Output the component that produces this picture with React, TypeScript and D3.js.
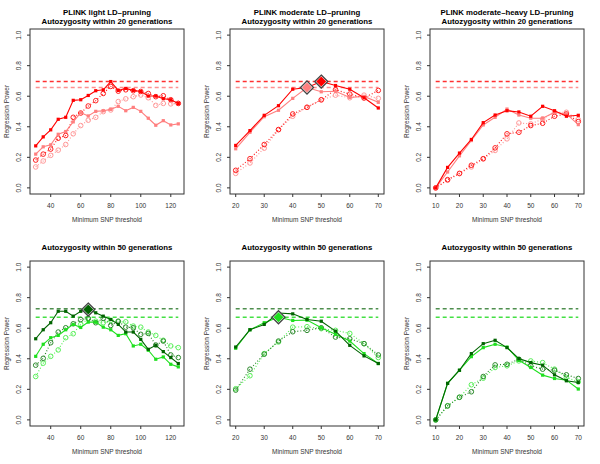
import React from 'react';
import * as d3 from 'd3';

// x values (minimum SNP threshold)
const xLight = [30, 35, 40, 45, 50, 55, 60, 65, 70, 75, 80, 85, 90, 95, 100, 105, 110, 115, 120, 125];
const xModerate = [20, 25, 30, 35, 40, 45, 50, 55, 60, 65, 70];
const xHeavy = [10, 15, 20, 25, 30, 35, 40, 45, 50, 55, 60, 65, 70];

const xTicksLight = [40, 60, 80, 100, 120];
const xTicksModerate = [20, 30, 40, 50, 60, 70];
const xTicksHeavy = [10, 20, 30, 40, 50, 60, 70];
const yTicks = [0, 0.2, 0.4, 0.6, 0.8, 1.0];

// 20 generations
const light20A = [0.275, 0.334, 0.38, 0.449, 0.462, 0.573, 0.577, 0.605, 0.636, 0.642, 0.696, 0.638, 0.651, 0.638, 0.631, 0.601, 0.601, 0.584, 0.577, 0.553];
const light20B = [0.221, 0.269, 0.282, 0.351, 0.369, 0.432, 0.492, 0.471, 0.501, 0.505, 0.514, 0.534, 0.505, 0.527, 0.501, 0.456, 0.41, 0.44, 0.412, 0.419];
const light20C = [0.182, 0.221, 0.254, 0.325, 0.343, 0.462, 0.49, 0.536, 0.571, 0.618, 0.664, 0.633, 0.642, 0.636, 0.631, 0.618, 0.597, 0.603, 0.577, 0.553];
const light20D = [0.137, 0.176, 0.213, 0.247, 0.284, 0.354, 0.408, 0.443, 0.462, 0.499, 0.51, 0.565, 0.583, 0.597, 0.608, 0.59, 0.54, 0.553, 0.55, 0.553];

const moderate20A = [0.278, 0.375, 0.475, 0.538, 0.646, 0.657, 0.696, 0.67, 0.646, 0.59, 0.523];
const moderate20B = [0.256, 0.364, 0.466, 0.508, 0.586, 0.657, 0.629, 0.633, 0.592, 0.599, 0.56];
const moderate20C = [0.115, 0.191, 0.284, 0.382, 0.484, 0.527, 0.577, 0.642, 0.614, 0.588, 0.638];
const moderate20D = [0.095, 0.163, 0.26, 0.38, 0.469, 0.529, 0.575, 0.607, 0.59, 0.607, 0.586];

const heavy20A = [0.0, 0.134, 0.228, 0.317, 0.427, 0.477, 0.505, 0.497, 0.469, 0.534, 0.505, 0.469, 0.475];
const heavy20B = [0.0, 0.104, 0.21, 0.31, 0.412, 0.462, 0.516, 0.477, 0.456, 0.456, 0.495, 0.484, 0.414];
const heavy20C = [0.0, 0.054, 0.095, 0.148, 0.191, 0.262, 0.354, 0.364, 0.408, 0.423, 0.469, 0.484, 0.434];
const heavy20D = [0.0, 0.05, 0.093, 0.137, 0.19, 0.245, 0.321, 0.425, 0.419, 0.451, 0.495, 0.495, 0.447];

// 50 generations
const light50A = [0.531, 0.59, 0.636, 0.711, 0.711, 0.679, 0.711, 0.722, 0.701, 0.679, 0.657, 0.625, 0.575, 0.575, 0.527, 0.462, 0.488, 0.447, 0.408, 0.369];
const light50B = [0.416, 0.495, 0.538, 0.553, 0.59, 0.625, 0.605, 0.64, 0.64, 0.607, 0.59, 0.553, 0.564, 0.484, 0.495, 0.456, 0.397, 0.412, 0.364, 0.347];
const light50C = [0.358, 0.403, 0.505, 0.575, 0.603, 0.629, 0.657, 0.664, 0.636, 0.664, 0.618, 0.646, 0.607, 0.603, 0.56, 0.566, 0.49, 0.516, 0.425, 0.408];
const light50D = [0.284, 0.371, 0.416, 0.458, 0.538, 0.564, 0.625, 0.662, 0.646, 0.636, 0.651, 0.642, 0.642, 0.614, 0.607, 0.575, 0.553, 0.521, 0.484, 0.473];

const moderate50A = [0.477, 0.59, 0.625, 0.7, 0.694, 0.657, 0.646, 0.581, 0.488, 0.419, 0.369];
const moderate50B = [0.469, 0.59, 0.636, 0.672, 0.651, 0.653, 0.603, 0.56, 0.516, 0.434, 0.369];
const moderate50C = [0.195, 0.332, 0.43, 0.516, 0.577, 0.586, 0.603, 0.542, 0.531, 0.499, 0.425];
const moderate50D = [0.204, 0.289, 0.434, 0.51, 0.607, 0.61, 0.597, 0.586, 0.566, 0.499, 0.408];

const heavy50A = [0.0, 0.239, 0.325, 0.434, 0.499, 0.521, 0.473, 0.401, 0.375, 0.358, 0.295, 0.256, 0.245];
const heavy50B = [0.0, 0.239, 0.325, 0.414, 0.473, 0.495, 0.477, 0.39, 0.343, 0.293, 0.271, 0.26, 0.202];
const heavy50C = [0.0, 0.091, 0.148, 0.184, 0.284, 0.36, 0.364, 0.397, 0.354, 0.332, 0.325, 0.295, 0.271];
const heavy50D = [0.0, 0.093, 0.148, 0.23, 0.273, 0.343, 0.354, 0.386, 0.386, 0.375, 0.332, 0.278, 0.249];

const thresholds20 = [0.696, 0.657];
const thresholds50 = [0.727, 0.672];

const reds = { a: '#ff0000', b: '#ff7f7f', c: '#ff2020', d: '#ff9a9a', h1: '#ff3030', h2: '#ff9090' };
const greens = { a: '#006400', b: '#1ee01e', c: '#2e8b2e', d: '#5cf05c', h1: '#4f8f4f', h2: '#44e044' };

const box = { left: 30, right: 184, top: 29, bottom: 194 };
const font = 'Liberation Sans, Arial, Helvetica, sans-serif';

function Panel({ px, py, title, xs, xTicks, series, palette, thresholds, marks }) {
  const pad = (d3.max(xs) - d3.min(xs)) * 0.04;
  const x = d3.scaleLinear().domain([d3.min(xs) - pad, d3.max(xs) + pad]).range([box.left, box.right]);
  const y = d3.scaleLinear().domain([-0.04, 1.04]).range([box.bottom, box.top]);
  const line = d3.line().x((d) => x(d[0])).y((d) => y(d[1]));
  const cols = [palette.a, palette.b, palette.c, palette.d];
  const diamond = (s) => `M0,${-s}L${s},0L0,${s}L${-s},0Z`;

  return (
    <g transform={`translate(${px},${py})`}>
      {title.map((t, i) => (
        <text key={i} x={(box.left + box.right) / 2} y={title.length === 1 ? 18 : 15 + i * 9}
          textAnchor="middle" fontSize={7.8} fontWeight="bold" fill="#000">{t}</text>
      ))}
      <rect x={box.left} y={box.top} width={box.right - box.left} height={box.bottom - box.top}
        fill="none" stroke="#333" strokeWidth={1} />
      {/* x axis */}
      {xTicks.map((t) => (
        <g key={t}>
          <line x1={x(t)} x2={x(t)} y1={box.bottom} y2={box.bottom + 3} stroke="#333" />
          <text x={x(t)} y={box.bottom + 14} textAnchor="middle" fontSize={6.5} fill="#333">{t}</text>
        </g>
      ))}
      {/* y axis */}
      {yTicks.map((t) => (
        <g key={t}>
          <line x1={box.left - 3} x2={box.left} y1={y(t)} y2={y(t)} stroke="#333" />
          <text transform={`translate(${box.left - 9},${y(t)}) rotate(-90)`} textAnchor="middle"
            fontSize={6.5} fill="#333">{t.toFixed(1)}</text>
        </g>
      ))}
      <text x={(box.left + box.right) / 2} y={222} textAnchor="middle" fontSize={6.5} fill="#333">Minimum SNP threshold</text>
      <text transform={`translate(9,${(box.top + box.bottom) / 2}) rotate(-90)`} textAnchor="middle"
        fontSize={6.5} fill="#333">Regression Power</text>

      {/* thresholds */}
      {thresholds.map((v, i) => (
        <line key={i} x1={x(d3.min(xs))} x2={x(d3.max(xs))} y1={y(v)} y2={y(v)}
          stroke={i === 0 ? palette.h1 : palette.h2} strokeWidth={1.4} strokeDasharray="4,3" />
      ))}

      {/* dotted series with open circles */}
      {[3, 2].map((k) => {
        const pts = xs.map((xv, i) => [xv, series[k][i]]);
        return (
          <g key={k}>
            <path d={line(pts)} fill="none" stroke={cols[k]} strokeWidth={1.2} strokeDasharray="1,2" />
            {pts.map((p, i) => (
              <circle key={i} cx={x(p[0])} cy={y(p[1])} r={2.3} fill="none" stroke={cols[k]} strokeWidth={1} />
            ))}
          </g>
        );
      })}

      {/* solid series with filled points */}
      {[1, 0].map((k) => {
        const pts = xs.map((xv, i) => [xv, series[k][i]]);
        return (
          <g key={k}>
            <path d={line(pts)} fill="none" stroke={cols[k]} strokeWidth={1.1} />
            {pts.map((p, i) => (
              <rect key={i} x={x(p[0]) - 1.6} y={y(p[1]) - 1.6} width={3.2} height={3.2} fill={cols[k]} />
            ))}
          </g>
        );
      })}

      {/* best settings */}
      {marks.map((m, i) => (
        <g key={i} transform={`translate(${x(m.x)},${y(m.y)})`}>
          <path d={diamond(6.5)} fill="#fff" stroke="#444" strokeWidth={1.3} />
          <path d={diamond(5)} fill={m.color} />
        </g>
      ))}
    </g>
  );
}

export default function App() {
  const t50 = ['Autozygosity within 50 generations'];
  return (
    <svg width={600} height={464} style={{ position: 'absolute', left: 0, top: 0, background: '#fff' }}
      fontFamily={font}>
      <Panel px={0} py={0} title={['PLINK light LD\u2013pruning', 'Autozygosity within 20 generations']}
        xs={xLight} xTicks={xTicksLight} series={[light20A, light20B, light20C, light20D]}
        palette={reds} thresholds={thresholds20} marks={[]} />
      <Panel px={200} py={0} title={['PLINK moderate LD\u2013pruning', 'Autozygosity within 20 generations']}
        xs={xModerate} xTicks={xTicksModerate} series={[moderate20A, moderate20B, moderate20C, moderate20D]}
        palette={reds} thresholds={thresholds20}
        marks={[{ x: 45, y: moderate20B[5], color: reds.b }, { x: 50, y: moderate20A[6], color: reds.a }]} />
      <Panel px={400} py={0} title={['PLINK moderate\u2013heavy LD\u2013pruning', 'Autozygosity within 20 generations']}
        xs={xHeavy} xTicks={xTicksHeavy} series={[heavy20A, heavy20B, heavy20C, heavy20D]}
        palette={reds} thresholds={thresholds20} marks={[]} />
      <Panel px={0} py={232} title={t50}
        xs={xLight} xTicks={xTicksLight} series={[light50A, light50B, light50C, light50D]}
        palette={greens} thresholds={thresholds50}
        marks={[{ x: 65, y: light50A[7], color: greens.a }]} />
      <Panel px={200} py={232} title={t50}
        xs={xModerate} xTicks={xTicksModerate} series={[moderate50A, moderate50B, moderate50C, moderate50D]}
        palette={greens} thresholds={thresholds50}
        marks={[{ x: 35, y: moderate50B[3], color: greens.b }]} />
      <Panel px={400} py={232} title={t50}
        xs={xHeavy} xTicks={xTicksHeavy} series={[heavy50A, heavy50B, heavy50C, heavy50D]}
        palette={greens} thresholds={thresholds50} marks={[]} />
    </svg>
  );
}
